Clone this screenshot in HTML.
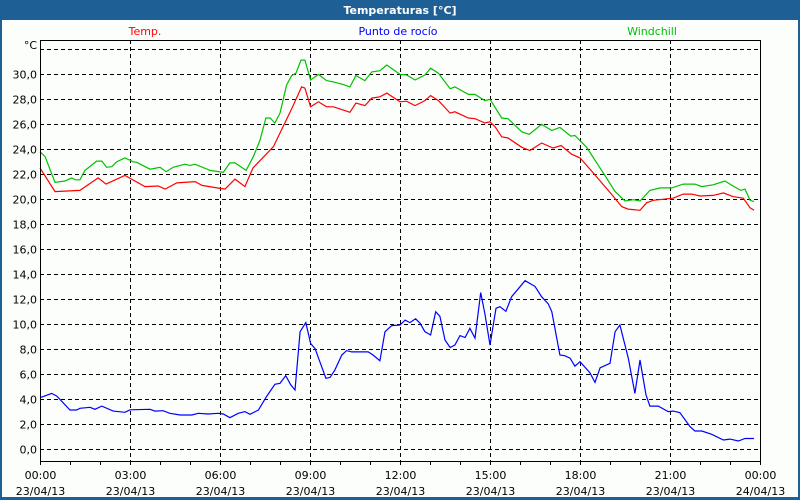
<!DOCTYPE html>
<html><head><meta charset="utf-8"><style>
html,body{margin:0;padding:0;background:#fff;}
#wrap{position:relative;width:800px;height:500px;overflow:hidden;}
svg text{font-family:"DejaVu Sans","Liberation Sans",sans-serif;font-size:11px;}
</style></head><body>
<div id="wrap">
<svg id="chart" width="800" height="500" xmlns="http://www.w3.org/2000/svg">
<rect x="0" y="0" width="800" height="500" fill="#1e5f95"/>
<rect x="2" y="20" width="796" height="477" fill="#fcfefc"/>
<text x="400" y="14" text-anchor="middle" fill="#fff" font-weight="bold">Temperaturas [°C]</text>
<text x="145" y="35" text-anchor="middle" fill="#ff0000">Temp.</text>
<text x="398" y="35" text-anchor="middle" fill="#0000ff">Punto de rocío</text>
<text x="652" y="35" text-anchor="middle" fill="#00c000">Windchill</text>
<text x="37" y="49" text-anchor="end" fill="#000">°C</text>
<g id="grid"></g>
<g id="series"></g>
<g id="axes"></g>
</svg>
</div>
<script>
const yTicks=[0,2,4,6,8,10,12,14,16,18,20,22,24,26,28,30,32];
const xTickHours=[0,3,6,9,12,15,18,21,24];
const xTimeLabels=["00:00","03:00","06:00","09:00","12:00","15:00","18:00","21:00","00:00"];
const xDateLabels=["23/04/13","23/04/13","23/04/13","23/04/13","23/04/13","23/04/13","23/04/13","23/04/13","24/04/13"];

const tempHours=[0,0.5,1.33,1.94,2.2,2.83,3.5,3.94,4.17,4.56,5.17,5.4,5.9,6.17,6.5,6.83,7.1,7.78,8.0,8.4,8.72,8.83,9.02,9.28,9.55,9.78,10.1,10.33,10.53,10.83,11.06,11.33,11.56,12.0,12.22,12.5,12.83,13.02,13.28,13.67,13.83,14.28,14.5,14.83,15.0,15.17,15.39,15.6,16.06,16.33,16.72,17.1,17.37,17.72,18.0,18.44,19.1,19.39,19.6,20.0,20.22,20.44,21.1,21.44,21.72,22.0,22.44,22.78,23.1,23.44,23.67,23.8];
const tempValues=[22.5,20.6,20.7,21.7,21.2,21.9,21.0,21.05,20.8,21.3,21.4,21.1,20.9,20.8,21.6,21.0,22.5,24.2,25.3,27.3,29.0,28.9,27.4,27.8,27.4,27.4,27.15,26.96,27.7,27.5,28.1,28.2,28.5,27.8,27.85,27.5,27.9,28.3,27.9,26.9,27.0,26.5,26.45,26.1,26.2,25.8,25.0,24.9,24.15,23.9,24.5,24.1,24.3,23.6,23.3,22.1,20.25,19.4,19.2,19.1,19.7,19.9,20.07,20.4,20.4,20.25,20.3,20.5,20.2,20.07,19.3,19.1];

const windHours=[0,0.17,0.5,0.83,1.06,1.17,1.33,1.5,1.89,2.06,2.22,2.39,2.56,2.83,3.1,3.22,3.67,4.0,4.2,4.44,4.83,5.0,5.17,5.67,6.11,6.33,6.5,6.87,7.11,7.33,7.53,7.67,7.83,8.0,8.22,8.39,8.53,8.7,8.83,9.02,9.28,9.55,9.78,10.1,10.33,10.53,10.83,11.06,11.33,11.56,12.0,12.22,12.5,12.83,13.02,13.28,13.67,13.83,14.28,14.5,14.83,15.0,15.39,15.6,16.06,16.31,16.72,17.06,17.33,17.69,17.83,18.22,18.83,19.17,19.5,19.78,20.0,20.33,20.67,21.06,21.44,21.83,22.06,22.44,22.83,23.1,23.36,23.5,23.67,23.8];
const windValues=[23.8,23.4,21.35,21.45,21.7,21.55,21.55,22.3,23.05,23.05,22.55,22.6,23.0,23.3,23.0,22.95,22.4,22.55,22.2,22.55,22.8,22.7,22.8,22.3,22.15,22.9,22.9,22.3,23.4,24.7,26.5,26.5,26.1,26.9,29.15,29.9,30.1,31.15,31.15,29.55,30.0,29.5,29.4,29.2,29.0,29.9,29.5,30.2,30.3,30.75,30.0,29.95,29.55,29.95,30.5,30.1,28.85,29.0,28.4,28.4,27.9,28.0,26.5,26.45,25.4,25.2,26.0,25.5,25.75,25.05,25.1,24.15,21.9,20.6,19.85,19.95,19.85,20.7,20.9,20.9,21.2,21.2,21.0,21.15,21.45,21.05,20.7,20.8,19.9,19.8];

const dewHours=[0,0.39,0.56,1.0,1.22,1.33,1.67,1.83,2.06,2.44,2.83,3.0,3.67,3.83,4.1,4.33,4.67,5.06,5.28,5.6,5.94,6.11,6.33,6.61,6.83,7.0,7.28,7.55,7.83,8.0,8.19,8.36,8.5,8.67,8.86,9.02,9.17,9.53,9.67,9.83,10.06,10.22,10.39,10.94,11.1,11.33,11.5,11.72,12.0,12.17,12.33,12.52,12.67,12.83,13.02,13.19,13.33,13.5,13.67,13.83,14.0,14.17,14.33,14.5,14.69,14.83,15.0,15.2,15.33,15.53,15.72,16.17,16.5,16.72,16.94,17.06,17.33,17.5,17.67,17.83,18.0,18.33,18.5,18.67,19.0,19.17,19.33,19.61,19.83,20.0,20.2,20.33,20.61,20.94,21.11,21.33,21.67,21.83,22.06,22.39,22.78,23.0,23.28,23.5,23.8];
const dewValues=[4.07,4.42,4.2,3.09,3.09,3.22,3.3,3.14,3.4,3.0,2.9,3.1,3.14,3.0,3.03,2.82,2.69,2.69,2.82,2.77,2.82,2.77,2.47,2.82,2.96,2.74,3.09,4.16,5.15,5.23,5.84,5.1,4.69,9.37,10.1,8.43,8.0,5.63,5.7,6.3,7.5,7.85,7.75,7.75,7.5,7.04,9.37,9.85,9.9,10.3,10.1,10.4,10.04,9.37,9.1,10.97,10.6,8.7,8.1,8.3,9.05,8.9,9.64,8.85,12.5,10.8,8.3,11.24,11.37,11.0,12.17,13.46,13.0,12.17,11.6,10.97,7.5,7.43,7.24,6.6,6.96,6.08,5.3,6.47,6.83,9.37,9.9,7.24,4.42,7.1,4.3,3.4,3.4,2.96,3.0,2.87,1.75,1.4,1.4,1.14,0.68,0.75,0.6,0.8,0.8];

const X0=40,X1=760,Y0=448.5,PXU=12.47;
function xScale(h){return X0+h*(X1-X0)/24;}
function yScale(v){return Y0-v*PXU;}
const NS="http://www.w3.org/2000/svg";
const grid=document.getElementById('grid'),axes=document.getElementById('axes'),series=document.getElementById('series');
function mk(tag,attrs,parent){const e=document.createElementNS(NS,tag);for(const k in attrs)e.setAttribute(k,attrs[k]);parent.appendChild(e);return e;}

yTicks.forEach(v=>{
  const y=Math.round(yScale(v))+0.5;
  const l=mk('line',{x1:X0,x2:X1,y1:y,y2:y,stroke:'#000','stroke-dasharray':'4,3','stroke-width':1},grid);
  
  
  if(v<=30){
    const t=mk('text',{x:37,y:y+4,'text-anchor':'end',fill:'#000'},axes);
    t.textContent=v.toFixed(1).replace('.',',');
    
    
  }
});
xTickHours.forEach((h,i)=>{
  const x=Math.round(xScale(h))+0.5;
  if(h>0&&h<24){
    const l=mk('line',{x1:x,x2:x,y1:40,y2:461,stroke:'#000','stroke-dasharray':'4,3','stroke-width':1},grid);
    
    
  }
  const t1=mk('text',{x:x,y:479,'text-anchor':'middle',fill:'#000'},axes);
  t1.textContent=xTimeLabels[i];
  
  
  const t2=mk('text',{x:x,y:495,'text-anchor':'middle',fill:'#000'},axes);
  t2.textContent=xDateLabels[i];
  
  
});
for(let h=0;h<=24;h++){
  const x=Math.round(xScale(h))+0.5;
  const l=mk('line',{x1:x,x2:x,y1:461,y2:465,stroke:'#000'},axes);
  
  
}
const frame=mk('rect',{x:40.5,y:40.5,width:720,height:421,fill:'none',stroke:'#000','stroke-width':1},axes);



function drawSeries(hours,vals,color,name){
  const pts=hours.map((h,i)=>xScale(h).toFixed(1)+','+yScale(vals[i]).toFixed(1)).join(' ');
  const p=mk('polyline',{points:pts,fill:'none',stroke:color,'stroke-width':1.2},series);
  
  
}
drawSeries(windHours,windValues,'#00c000','windchill-line');
drawSeries(tempHours,tempValues,'#ff0000','temp-line');
drawSeries(dewHours,dewValues,'#0000ff','dew-point-line');
</script>
</body></html>
